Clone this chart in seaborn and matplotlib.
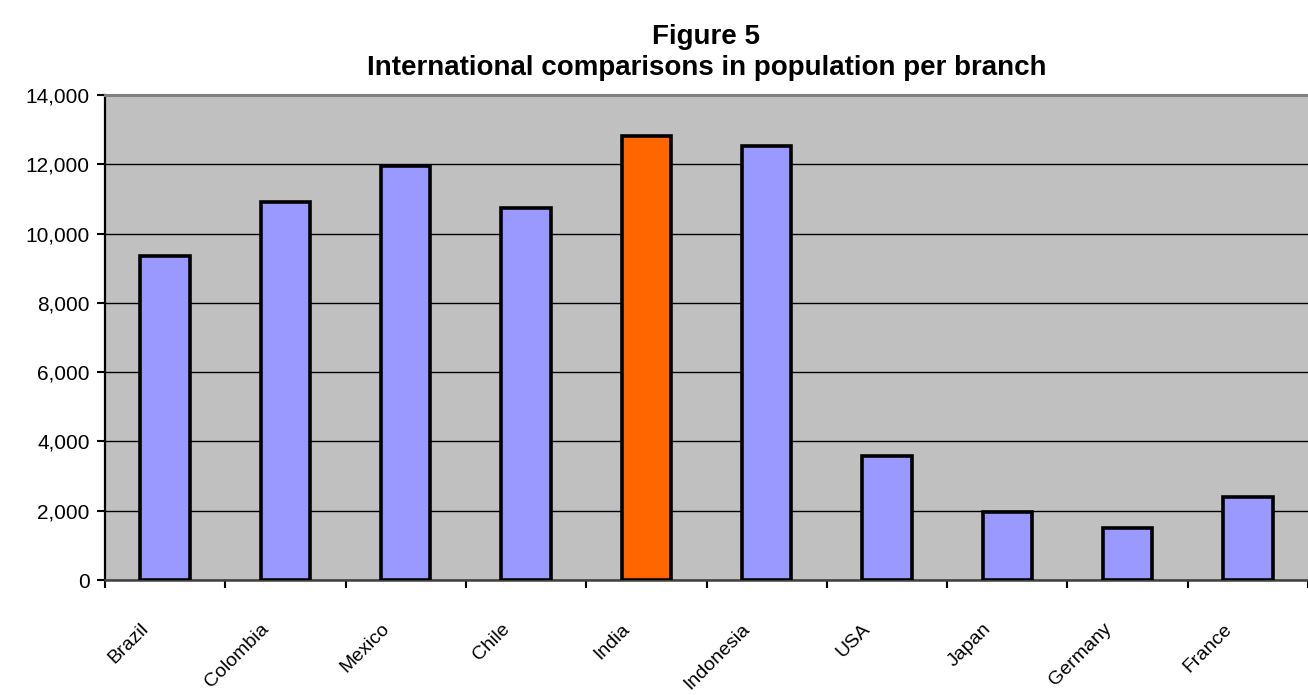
import numpy as np
import pandas as pd
import matplotlib
matplotlib.use("Agg")
import matplotlib.pyplot as plt
import matplotlib.transforms as mtransforms
from matplotlib.ticker import FuncFormatter, MultipleLocator
import seaborn as sns

# data
countries = ['Brazil', 'Colombia', 'Mexico', 'Chile', 'India',
             'Indonesia', 'USA', 'Japan', 'Germany', 'France']
pop_per_branch = [9350, 10900, 11950, 10740, 12820,
                  12530, 3580, 1960, 1500, 2400]
highlight = 'India'

BAR_COLOR = '#9999FF'
HI_COLOR = '#FF6600'
BG_COLOR = '#C0C0C0'


def main():
    df = pd.DataFrame({'Country': countries, 'Population': pop_per_branch})
    palette = {c: (HI_COLOR if c == highlight else BAR_COLOR) for c in countries}

    sns.set_style("white")
    plt.rcParams['font.family'] = ['Liberation Sans', 'DejaVu Sans']
    plt.rcParams['text.color'] = 'black'

    fig = plt.figure(figsize=(13.08, 6.95), dpi=100)
    ax = fig.add_axes([105 / 1308, 1 - 580 / 695, 1203 / 1308, 485 / 695])
    ax.set_facecolor(BG_COLOR)

    sns.barplot(data=df, x='Country', y='Population', hue='Country',
                palette=palette, saturation=1, dodge=False, legend=False,
                width=0.41, edgecolor='black', linewidth=2.6, ax=ax, zorder=3)

    # axes limits / gridlines
    ax.set_xlim(-0.5, len(countries) - 0.5)
    ax.set_ylim(0, 14000)
    ax.yaxis.set_major_locator(MultipleLocator(2000))
    ax.yaxis.set_major_formatter(FuncFormatter(lambda v, p: f'{int(v):,}'))
    ax.grid(axis='y', color='black', linewidth=1.0, zorder=1)
    ax.set_axisbelow(True)

    # Excel-style category ticks between bars
    ax.set_xticks(np.arange(len(countries)))
    ax.set_xticklabels(countries, rotation=45, ha='right', va='top',
                       rotation_mode='anchor', fontsize=14)
    ax.set_xticks(np.arange(-0.5, len(countries)), minor=True)
    ax.tick_params(axis='x', which='major', bottom=True, length=0, pad=29,
                   labelcolor='black')
    ax.tick_params(axis='x', which='minor', bottom=True, length=6, width=1.5,
                   color='black', direction='out')
    ax.tick_params(axis='y', left=True, length=6, width=1.5, color='black',
                   direction='out', labelsize=15, labelcolor='black', pad=5)
    shift = mtransforms.ScaledTranslation(-0.25, 0, fig.dpi_scale_trans)
    for lbl in ax.get_xticklabels():
        lbl.set_transform(lbl.get_transform() + shift)

    ax.set_xlabel('')
    ax.set_ylabel('')

    ax.spines['top'].set_visible(True)
    ax.spines['top'].set_color('#808080')
    ax.spines['top'].set_linewidth(2.2)
    ax.spines['right'].set_visible(False)
    ax.spines['left'].set_visible(True)
    ax.spines['left'].set_color('black')
    ax.spines['left'].set_linewidth(1.6)
    ax.spines['bottom'].set_visible(True)
    ax.spines['bottom'].set_color('#404040')
    ax.spines['bottom'].set_linewidth(1.8)

    xc = (105 + 1308) / 2 / 1308
    fig.text(xc, 1 - 37 / 695, 'Figure 5',
             ha='center', va='center', fontsize=20, fontweight='bold')
    fig.text(xc, 1 - 68 / 695,
             'International comparisons in population per branch',
             ha='center', va='center', fontsize=20, fontweight='bold')

    fig.savefig('out.png', dpi=100)
    plt.close(fig)


if __name__ == "__main__":
    main()
